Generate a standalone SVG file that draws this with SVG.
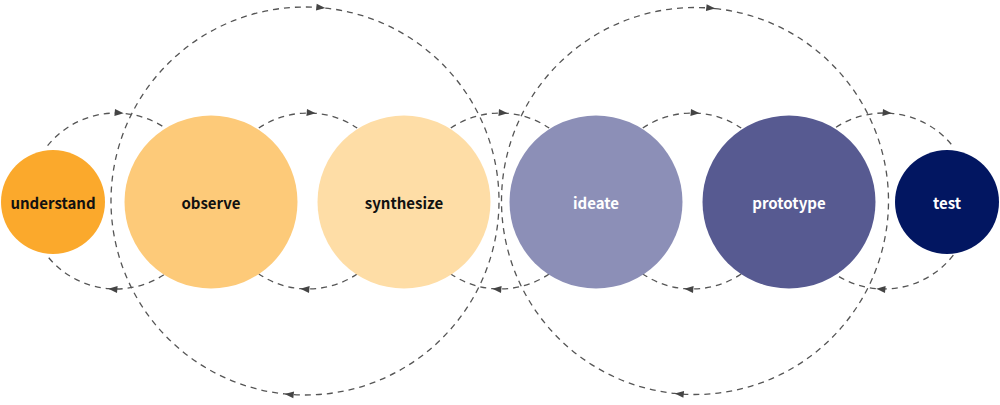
<svg xmlns="http://www.w3.org/2000/svg" width="1000" height="405" viewBox="0 0 1000 405">
<style>
.arc{fill:none;stroke:#555;stroke-width:1.3;stroke-dasharray:6 5;marker-mid:url(#ah)}
.big{fill:none;stroke:#555;stroke-width:1.3;stroke-dasharray:6 5;marker-start:url(#ah);marker-mid:url(#ah)}
.lbl{font-family:"Noto Sans CJK SC","Source Sans Pro","Noto Sans",sans-serif;font-weight:700;font-size:15px;text-anchor:middle;dominant-baseline:central}
.dark{fill:#111}
.light{fill:#fff}
</style>
<defs>
<marker id="ah" markerUnits="userSpaceOnUse" markerWidth="10" markerHeight="8" refX="9" refY="3.5" orient="auto" overflow="visible">
<path d="M0,0 L9,3.5 L0,7 z" fill="#444"/>
</marker>
</defs>
<rect width="1000" height="405" fill="#fff"/>
<g id="connectors">
<path class="big" d="M325.28,8.06 A194,194 0 0 1 284.72,393.94 A194,194 0 0 1 325.28,8.06"/>
<path class="big" d="M715.23,8.56 A193.5,193.5 0 0 1 674.77,393.44 A193.5,193.5 0 0 1 715.23,8.56"/>
<path class="arc" d="M47.61,145.62 A88,88 0 0 1 123.67,113.34 A88,88 0 0 1 163.93,127.2"/>
<path class="arc" d="M163.93,274.8 A88,88 0 0 1 108.33,288.66 A88,88 0 0 1 46.66,255.18"/>
<path class="arc" d="M258.79,128.05 A88,88 0 0 1 315.67,113.34 A88,88 0 0 1 357.21,128.05"/>
<path class="arc" d="M357.21,273.95 A88,88 0 0 1 300.33,288.66 A88,88 0 0 1 258.79,273.95"/>
<path class="arc" d="M450.79,128.05 A88,88 0 0 1 507.67,113.34 A88,88 0 0 1 549.21,128.05"/>
<path class="arc" d="M549.21,273.95 A88,88 0 0 1 492.33,288.66 A88,88 0 0 1 450.79,273.95"/>
<path class="arc" d="M642.79,128.05 A88,88 0 0 1 699.67,113.34 A88,88 0 0 1 741.21,128.05"/>
<path class="arc" d="M741.21,273.95 A88,88 0 0 1 684.33,288.66 A88,88 0 0 1 642.79,273.95"/>
<path class="arc" d="M836.07,127.2 A88,88 0 0 1 891.67,113.34 A88,88 0 0 1 952.39,145.62"/>
<path class="arc" d="M953.34,255.18 A88,88 0 0 1 876.33,288.66 A88,88 0 0 1 836.07,274.8"/>
</g>
<g id="understand">
<circle cx="53" cy="202" r="52" fill="#FBA92C"/>
<text class="lbl dark" x="53" y="202">understand</text>
</g>
<g id="observe">
<circle cx="211" cy="202" r="86.5" fill="#FDCA79"/>
<text class="lbl dark" x="211" y="202">observe</text>
</g>
<g id="synthesize">
<circle cx="404" cy="202" r="86.5" fill="#FEDDA6"/>
<text class="lbl dark" x="404" y="202">synthesize</text>
</g>
<g id="ideate">
<circle cx="596" cy="202" r="86.5" fill="#8C8FB7"/>
<text class="lbl light" x="596" y="202">ideate</text>
</g>
<g id="prototype">
<circle cx="789" cy="202" r="86.5" fill="#575A91"/>
<text class="lbl light" x="789" y="202">prototype</text>
</g>
<g id="test">
<circle cx="947" cy="202" r="52" fill="#021661"/>
<text class="lbl light" x="947" y="202">test</text>
</g>
</svg>
